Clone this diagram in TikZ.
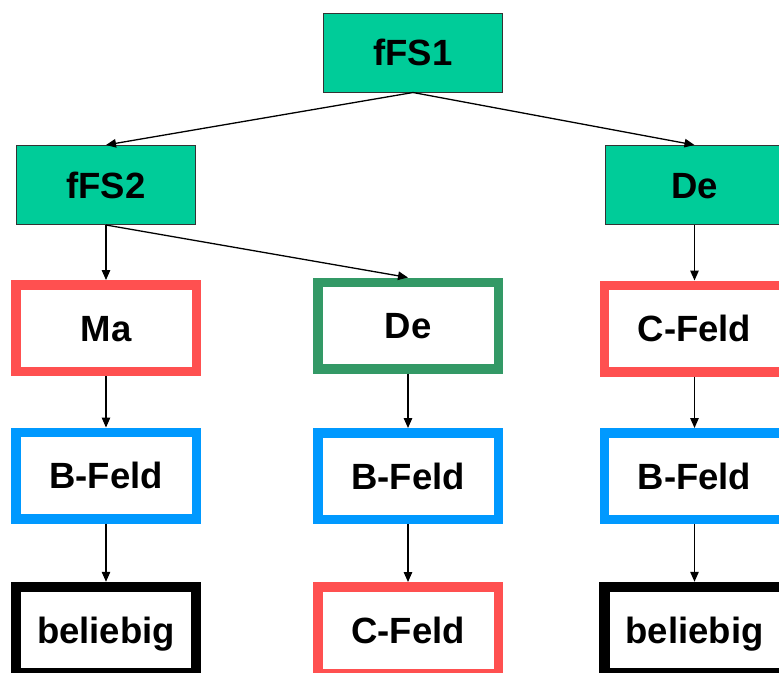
\documentclass[tikz,border=0pt]{standalone}
\usepackage{fontspec}
\setmainfont{Liberation Sans}
\usetikzlibrary{arrows.meta}
\definecolor{topgreen}{HTML}{00CC99}
\definecolor{redb}{HTML}{FF5050}
\definecolor{greenb}{HTML}{339966}
\definecolor{blueb}{HTML}{0099FF}
\tikzset{
  base/.style={font=\fontsize{36.5}{40}\selectfont\bfseries, text height=26pt, text depth=0pt, inner sep=0pt, align=center},
  topbox/.style={base, draw=black!80, line width=1pt, fill=topgreen, minimum width=179pt, minimum height=79pt},
  fbox/.style={base, draw=#1, line width=9.5pt, fill=white, minimum width=180.5pt, minimum height=86.5pt},
  blackbox/.style={base, draw=black, line width=10.5pt, fill=white, minimum width=180pt, minimum height=86pt},
  conn/.style={line width=1.3pt, -{Triangle[length=10pt,width=8.5pt]}}
}
\begin{document}
\begin{tikzpicture}[x=1pt,y=-1pt]
\useasboundingbox (0,0) rectangle (779,672);
\clip (0,0) rectangle (779,672);
\fill[white] (0,0) rectangle (779,672);
\node[topbox] (f1) at (413,52.5) {fFS1};
\node[topbox] (f2) at (106,185) {fFS2};
\node[topbox] (de1) at (694.5,185) {De};
\node[fbox=redb] (ma) at (106,328) {Ma};
\node[fbox=greenb] (de2) at (408,325.5) {De};
\node[fbox=redb] (c1) at (694.5,328.5) {C-Feld};
\node[fbox=blueb] (b1) at (106,475.5) {B-Feld};
\node[fbox=blueb] (b2) at (408,476) {B-Feld};
\node[fbox=blueb] (b3) at (694.5,476) {B-Feld};
\node[blackbox] (be1) at (106,630) {beliebig};
\node[fbox=redb] (c2) at (408,630) {C-Feld};
\node[blackbox] (be2) at (694.5,630) {beliebig};
\draw[conn] (f1.south) -- (f2.north);
\draw[conn] (f1.south) -- (de1.north);
\draw[conn] (f2.south) -- (ma.north);
\draw[conn] (f2.south) -- (de2.north);
\draw[conn] (de1.south) -- (c1.north);
\draw[conn] (ma.south) -- (b1.north);
\draw[conn] (de2.south) -- (b2.north);
\draw[conn] (c1.south) -- (b3.north);
\draw[conn] (b1.south) -- (be1.north);
\draw[conn] (b2.south) -- (c2.north);
\draw[conn] (b3.south) -- (be2.north);
\end{tikzpicture}
\end{document}
